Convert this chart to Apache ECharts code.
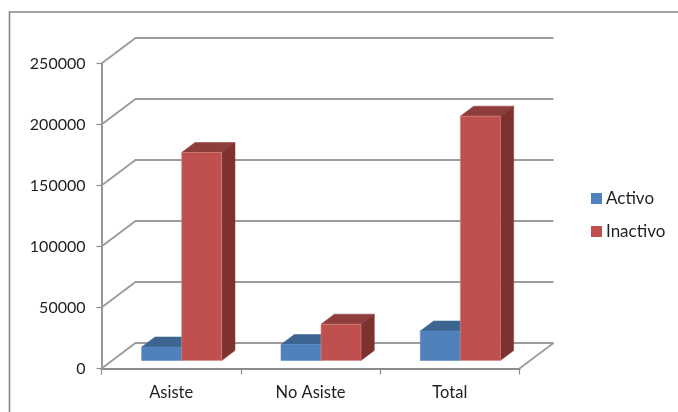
<!DOCTYPE html>
<html>
<head>
<meta charset="utf-8">
<style>html,body{margin:0;padding:0;background:#fff}#c{width:678px;height:412px}</style>
<script src="https://cdn.jsdelivr.net/npm/echarts@6/dist/echarts.min.js"></script>
</head>
<body>
<div id="c"></div>
<script>
// Attendance by status, drawn as 3D-looking clustered columns.
const categories = ['Asiste', 'No Asiste', 'Total'];
const activo = [11100, 13100, 24200];
const inactivo = [170500, 29800, 200300];
const yTicks = [0, 50000, 100000, 150000, 200000, 250000];

const FONT = 'Lato, "Open Sans", sans-serif';
const TEXT = '#1f1f1f';
const WALL = [34, -25.5];     // projection of the full chart depth
const INSET = [10.5, -8];     // where a column's front face sits on the floor
const DEPTH = [13.3, -10];    // projection of a column's own depth
const BAR_SHARE = 40 / 139.3; // width of one column within a category slot

const chart = echarts.init(document.getElementById('c'), null, { renderer: 'canvas' });

// Back wall gridlines, with their receding segment from the value axis.
function renderWall(params, api) {
  const cs = params.coordSys;
  const y = api.coord([0, api.value(0)])[1];
  const left = cs.x, right = cs.x + cs.width;
  const back = y + WALL[1];
  const children = [{
    type: 'polyline',
    shape: { points: [[left, y], [left + WALL[0], back], [right + WALL[0], back]] },
    style: { fill: null, stroke: '#9c9c9c', lineWidth: 1.8 }
  }];
  if (api.value(0) === 0) {
    children.push({
      type: 'line',
      shape: { x1: right, y1: y, x2: right + WALL[0], y2: back },
      style: { stroke: '#9c9c9c', lineWidth: 1.8 }
    });
  }
  return { type: 'group', children };
}

// One column: front face, top and right side.
function columnRenderer(slotShift, topColor, sideColor, edge) {
  return function (params, api) {
    const top = api.coord([api.value(0), api.value(1)]);
    const base = api.coord([api.value(0), 0]);
    const w = api.size([1, 0])[0] * BAR_SHARE;
    const x0 = top[0] + INSET[0] + slotShift * w;
    const x1 = x0 + w;
    const y0 = top[1] + INSET[1];
    const y1 = base[1] + INSET[1];
    const dx = DEPTH[0], dy = DEPTH[1];
    return {
      type: 'group',
      children: [
        { type: 'polygon', shape: { points: [[x0, y0], [x0 + dx, y0 + dy], [x1 + dx, y0 + dy], [x1, y0]] },
          style: { fill: topColor, stroke: topColor, lineWidth: 0.5 } },
        { type: 'polygon', shape: { points: [[x1, y0], [x1 + dx, y0 + dy], [x1 + dx, y1 + dy], [x1, y1]] },
          style: { fill: sideColor, stroke: sideColor, lineWidth: 0.5 } },
        { type: 'rect', shape: { x: x0, y: y0, width: w, height: y1 - y0 },
          style: { fill: api.visual('color'), stroke: edge, lineWidth: 0.6 } }
      ]
    };
  };
}

chart.setOption({
  animation: false,
  backgroundColor: '#fff',
  grid: { left: 101.5, top: 63.5, width: 418, height: 305, containLabel: false },
  legend: {
    data: ['Activo', 'Inactivo'],
    orient: 'vertical',
    left: 586,
    top: 185,
    itemWidth: 11,
    itemHeight: 11,
    itemGap: 16,
    icon: 'rect',
    textStyle: { fontFamily: FONT, fontSize: 17, color: TEXT, padding: [0, 0, 0, -1] }
  },
  xAxis: {
    type: 'category',
    data: categories,
    axisLine: { lineStyle: { color: '#8c8c8c', width: 1.8 } },
    axisTick: { show: true, length: 6, lineStyle: { color: '#8c8c8c', width: 1.2 } },
    axisLabel: { fontFamily: FONT, fontSize: 16.5, color: TEXT, margin: 16 },
    splitLine: { show: false }
  },
  yAxis: {
    type: 'value',
    min: 0,
    max: 250000,
    interval: 50000,
    axisLine: { show: true, lineStyle: { color: '#8c8c8c', width: 1.8 } },
    axisTick: { show: true, length: 5, lineStyle: { color: '#8c8c8c', width: 1.2 } },
    axisLabel: { fontFamily: FONT, fontSize: 16, color: TEXT, margin: 16, padding: [3, 0, 0, 0],
      formatter: v => String(v) },
    splitLine: { show: false }
  },
  graphic: [{
    type: 'polyline',
    silent: true,
    shape: { points: [[9.5, 412], [9.5, 12], [678, 12]] },
    style: { fill: null, stroke: '#868686', lineWidth: 1.6 }
  }],
  series: [
    {
      type: 'custom',
      coordinateSystem: 'cartesian2d',
      silent: true,
      z: 1,
      clip: false,
      renderItem: renderWall,
      encode: { y: 0 },
      data: yTicks.map(v => [v])
    },
    {
      name: 'Activo',
      type: 'custom',
      z: 3,
      clip: false,
      itemStyle: { color: '#4F81BD' },
      renderItem: columnRenderer(-1, '#3D6592', '#375A84', '#5e8cc4'),
      encode: { x: 0, y: 1 },
      data: activo.map((v, i) => [i, v])
    },
    {
      name: 'Inactivo',
      type: 'custom',
      z: 4,
      clip: false,
      itemStyle: { color: '#C0504D' },
      renderItem: columnRenderer(0, '#8F3D3B', '#7D3230', '#d68a88'),
      encode: { x: 0, y: 1 },
      data: inactivo.map((v, i) => [i, v])
    }
  ]
});
</script>
</body>
</html>
